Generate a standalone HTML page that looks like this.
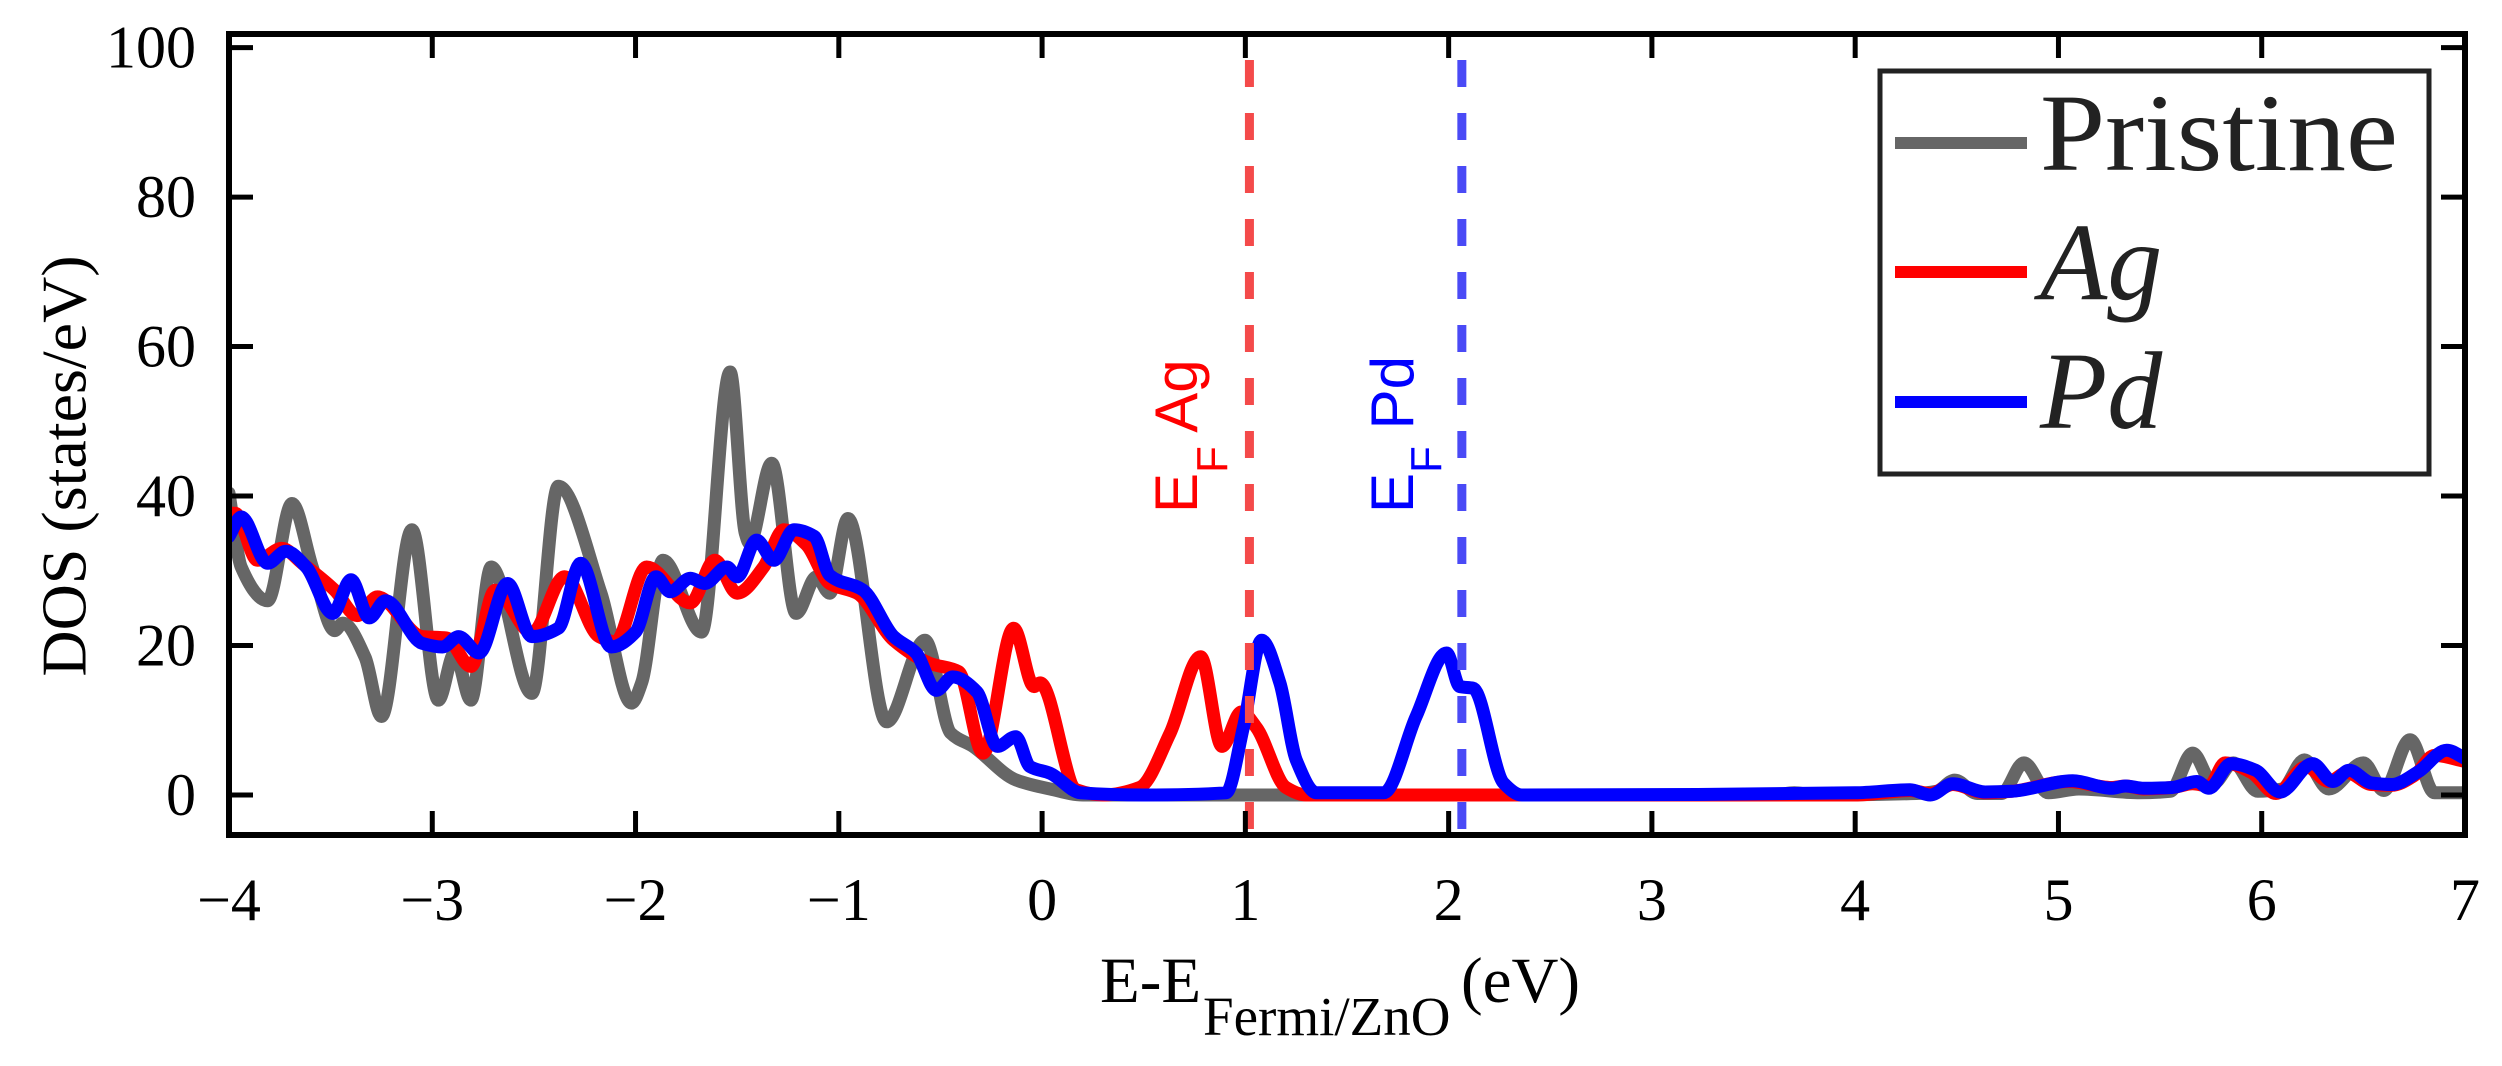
<!DOCTYPE html>
<html><head><meta charset="utf-8"><style>
html,body{margin:0;padding:0;background:#fff;}
svg{display:block;}
svg text{font-family:"Liberation Serif","Times New Roman",serif;}
svg text.sans{font-family:"Liberation Sans",Arial,sans-serif;}
</style></head><body>
<svg id="chart" width="2502" height="1066" viewBox="0 0 2502 1066" xmlns="http://www.w3.org/2000/svg">
<defs><clipPath id="clip"><rect x="229" y="34" width="2236" height="801"/></clipPath></defs>
<rect width="2502" height="1066" fill="#fff"/>
<g id="series" clip-path="url(#clip)"></g>
<g id="vlines"></g>
<rect x="229" y="34" width="2236" height="801" fill="none" stroke="#000" stroke-width="6"/>
<g id="ticks"></g>
<text x="64" y="466" transform="rotate(-90 64 466)" text-anchor="middle" dominant-baseline="central" style="font-size:64px">DOS (states/eV)</text>
<text x="1100" y="1002" style="font-size:65px">E-E<tspan x="1203" y="1035" style="font-size:55px">Fermi/ZnO</tspan><tspan x="1461" y="1002" style="font-size:65px">(eV)</tspan></text>
<text class="sans" transform="translate(1197,513) rotate(-90)" style="font-size:60px" fill="#ff0000">E<tspan dy="30" style="font-size:44px">F</tspan><tspan dy="-30"> Ag</tspan></text>
<text class="sans" transform="translate(1413,513) rotate(-90)" style="font-size:60px" fill="#0000ff">E<tspan dy="28" style="font-size:44px">F</tspan><tspan dy="-28"> Pd</tspan></text>
<g>
<rect x="1880" y="71" width="549" height="403" fill="#fff" stroke="#222" stroke-width="5"/>
<line x1="1895" y1="143" x2="2027" y2="143" stroke="#666" stroke-width="12"/>
<line x1="1895" y1="272" x2="2027" y2="272" stroke="#ff0000" stroke-width="12"/>
<line x1="1895" y1="402" x2="2027" y2="402" stroke="#0000ff" stroke-width="12"/>
<text x="2040" y="170" style="font-size:110px" textLength="358" lengthAdjust="spacingAndGlyphs" fill="#222">Pristine</text>
<text x="2040" y="299" style="font-size:110px;font-style:italic" fill="#222">Ag</text>
<text x="2040" y="428" style="font-size:110px;font-style:italic" fill="#222">Pd</text>
</g>
</svg>
<script>
const xTicks = [-4,-3,-2,-1,0,1,2,3,4,5,6,7];
const yTicks = [0,20,40,60,80,100];
const fermiAg = 1.02;
const fermiPd = 2.065;
const pristineX = [-4.0,-3.94,-3.81,-3.69,-3.59,-3.48,-3.44,-3.33,-3.25,-3.10,-2.97,-2.89,-2.81,-2.71,-2.51,-2.38,-2.17,-2.02,-1.97,-1.865,-1.675,-1.535,-1.46,-1.44,-1.33,-1.21,-1.11,-1.045,-0.955,-0.765,-0.576,-0.45,-0.34,-0.127,0.04,0.2,3.6,3.7,3.8,4.3,4.4,4.49,4.6,4.72,4.83,4.95,5.1,5.4,5.55,5.66,5.76,5.86,5.98,6.1,6.21,6.33,6.5,6.6,6.73,6.85,7.0];
const pristineY = [40.4,30.5,26,39,30.5,22,23,18.4,10.5,35.5,12.7,19,12.7,30.5,13.6,41.3,27,12.3,15,31.4,21.8,56.6,35,33.7,44.4,24.3,29.2,27,37,9.8,20.7,8.3,6.5,2,0.8,0,0,0.3,0,0.2,0.5,2,0.2,0.2,4.3,0.3,0.8,0.3,0.5,5.6,1.5,4.3,0.5,0.8,4.7,0.8,4.3,0.6,7.4,0.3,0.3];
const agX = [-4.0,-3.97,-3.86,-3.74,-3.64,-3.48,-3.37,-3.27,-3.05,-2.93,-2.81,-2.69,-2.51,-2.35,-2.18,-2.10,-1.945,-1.73,-1.61,-1.50,-1.37,-1.27,-1.16,-1.045,-0.91,-0.73,-0.55,-0.41,-0.29,-0.14,-0.04,-0.01,0.17,0.3,0.48,0.63,0.78,0.885,0.98,1.055,1.2,1.3,4.0,4.27,4.37,4.48,4.64,4.77,5.05,5.26,5.33,5.42,5.56,5.66,5.74,5.82,5.95,6.07,6.22,6.33,6.42,6.54,6.64,6.75,6.85,7.0];
const agY = [37.7,37.7,31.4,33,31,27.4,24,26.5,21.2,21,17.2,27.4,21.7,29.2,21.2,20.5,30.5,25.7,31.4,27,30.5,35.5,33.5,28.3,27,20.7,17.6,16.5,5.6,22.3,14.5,15,0.7,0,1,8.3,18.5,6.5,11.1,9,1,0,0,0.6,0.2,1.4,0.3,0.5,1.8,1,1.2,0.8,1,1.5,1.2,4.3,3,0.2,3.8,1.8,3,1.4,1.3,2.6,5.3,4.5];
const pdX = [-4.0,-3.94,-3.81,-3.72,-3.62,-3.49,-3.40,-3.31,-3.23,-3.05,-2.95,-2.87,-2.77,-2.63,-2.51,-2.38,-2.27,-2.12,-2.0,-1.90,-1.83,-1.73,-1.66,-1.55,-1.50,-1.405,-1.32,-1.22,-1.12,-1.045,-0.88,-0.73,-0.62,-0.52,-0.44,-0.32,-0.22,-0.13,-0.06,0.04,0.19,0.5,0.905,0.99,1.08,1.17,1.25,1.35,1.68,1.84,1.99,2.055,2.12,2.27,2.36,4.0,4.27,4.37,4.48,4.64,4.77,5.07,5.26,5.33,5.42,5.56,5.68,5.74,5.85,5.97,6.09,6.25,6.35,6.43,6.54,6.64,6.77,6.91,7.0];
const pdY = [34.6,37.2,31,32.6,30.5,24.3,28.8,23.7,26,20.3,19.8,21.2,19,28.3,21.2,22.3,31,19.8,21.8,29.2,27.2,29,28.3,30.5,29.2,34.1,31.4,35.5,34.6,29.4,27.4,21.2,19,14,15.8,13.8,6.5,7.8,3.8,2.9,0.3,0,0.3,9,20.7,15,4.7,0.3,0.3,10.5,19,14.5,14.3,1.6,0,0.3,0.7,0,1.5,0.4,0.5,1.9,0.9,1.2,0.9,1,1.8,0.9,4.2,3.3,0.4,4.2,1.8,3.3,1.6,1.4,3.1,6,4.9];

const NS = 'http://www.w3.org/2000/svg';
const X0 = 229, X1 = 2465, XMIN = -4, XMAX = 7;
const Y0V = 795, PXU = 7.474;
function xs(v){ return X0 + (v - XMIN) / (XMAX - XMIN) * (X1 - X0); }
function ys(v){ return Y0V - v * PXU; }

// monotone cubic (Fritsch-Carlson) path to avoid overshoot
function smoothPath(xa, ya){
  const n = xa.length;
  const px = xa.map(xs), py = ya.map(ys);
  const d = [], m = new Array(n);
  for (let i = 0; i < n - 1; i++) d.push((py[i+1]-py[i])/(px[i+1]-px[i]));
  m[0] = d[0]; m[n-1] = d[n-2];
  for (let i = 1; i < n - 1; i++){
    if (d[i-1]*d[i] <= 0) m[i] = 0;
    else { const h0 = px[i]-px[i-1], h1 = px[i+1]-px[i];
      const w1 = 2*h1 + h0, w2 = h1 + 2*h0;
      m[i] = (w1 + w2) / (w1/d[i-1] + w2/d[i]); }
  }
  let s = 'M' + px[0].toFixed(1) + ',' + py[0].toFixed(1);
  for (let i = 0; i < n - 1; i++){
    const h = (px[i+1]-px[i])/3;
    s += ' C' + (px[i]+h).toFixed(1) + ',' + (py[i]+m[i]*h).toFixed(1) + ' ' +
         (px[i+1]-h).toFixed(1) + ',' + (py[i+1]-m[i+1]*h).toFixed(1) + ' ' +
         px[i+1].toFixed(1) + ',' + py[i+1].toFixed(1);
  }
  return s;
}

const sg = document.getElementById('series');
const defs = [['pristine', pristineX, pristineY, '#666666'], ['ag', agX, agY, '#ff0000'], ['pd', pdX, pdY, '#0000ff']];
defs.forEach(s => {
  const path = document.createElementNS(NS, 'path');
  path.setAttribute('d', smoothPath(s[1], s[2]));
  path.setAttribute('fill', 'none');
  path.setAttribute('stroke', s[3]);
  path.setAttribute('stroke-width', '13');
  path.setAttribute('stroke-linejoin', 'round');
  path.setAttribute('stroke-linecap', 'round');
  
  
  sg.appendChild(path);
});

const vg = document.getElementById('vlines');
[[fermiAg, '#f44a4a', 'fermi-ag-line'], [fermiPd, '#4a4af6', 'fermi-pd-line']].forEach(f => {
  const l = document.createElementNS(NS, 'line');
  l.setAttribute('x1', xs(f[0])); l.setAttribute('x2', xs(f[0]));
  l.setAttribute('y1', 60); l.setAttribute('y2', 833);
  l.setAttribute('stroke', f[1]);
  l.setAttribute('stroke-width', '9');
  l.setAttribute('stroke-dasharray', '27 26');
  
  
  vg.appendChild(l);
});

const tg = document.getElementById('ticks');
xTicks.forEach(v => {
  const x = xs(v);
  [[835, 811], [34, 58]].forEach(yy => {
    const t = document.createElementNS(NS, 'line');
    t.setAttribute('x1', x); t.setAttribute('x2', x);
    t.setAttribute('y1', yy[0]); t.setAttribute('y2', yy[1]);
    t.setAttribute('stroke', '#000'); t.setAttribute('stroke-width', '5');
    
    
    tg.appendChild(t);
  });
  const tx = document.createElementNS(NS, 'text');
  tx.setAttribute('x', x); tx.setAttribute('y', 920);
  tx.setAttribute('text-anchor', 'middle');
  tx.setAttribute('style', 'font-size:60px');
  tx.textContent = v < 0 ? '\u2212' + Math.abs(v) : String(v);
  
  
  tg.appendChild(tx);
});
yTicks.forEach(v => {
  const y = ys(v);
  [[229, 253], [2465, 2441]].forEach(xx => {
    const t = document.createElementNS(NS, 'line');
    t.setAttribute('x1', xx[0]); t.setAttribute('x2', xx[1]);
    t.setAttribute('y1', y); t.setAttribute('y2', y);
    t.setAttribute('stroke', '#000'); t.setAttribute('stroke-width', '5');
    
    
    tg.appendChild(t);
  });
  const tx = document.createElementNS(NS, 'text');
  tx.setAttribute('x', 196); tx.setAttribute('y', y + 20);
  tx.setAttribute('text-anchor', 'end');
  tx.setAttribute('style', 'font-size:60px');
  tx.textContent = String(v);
  
  
  tg.appendChild(tx);
});
</script>
</body></html>
